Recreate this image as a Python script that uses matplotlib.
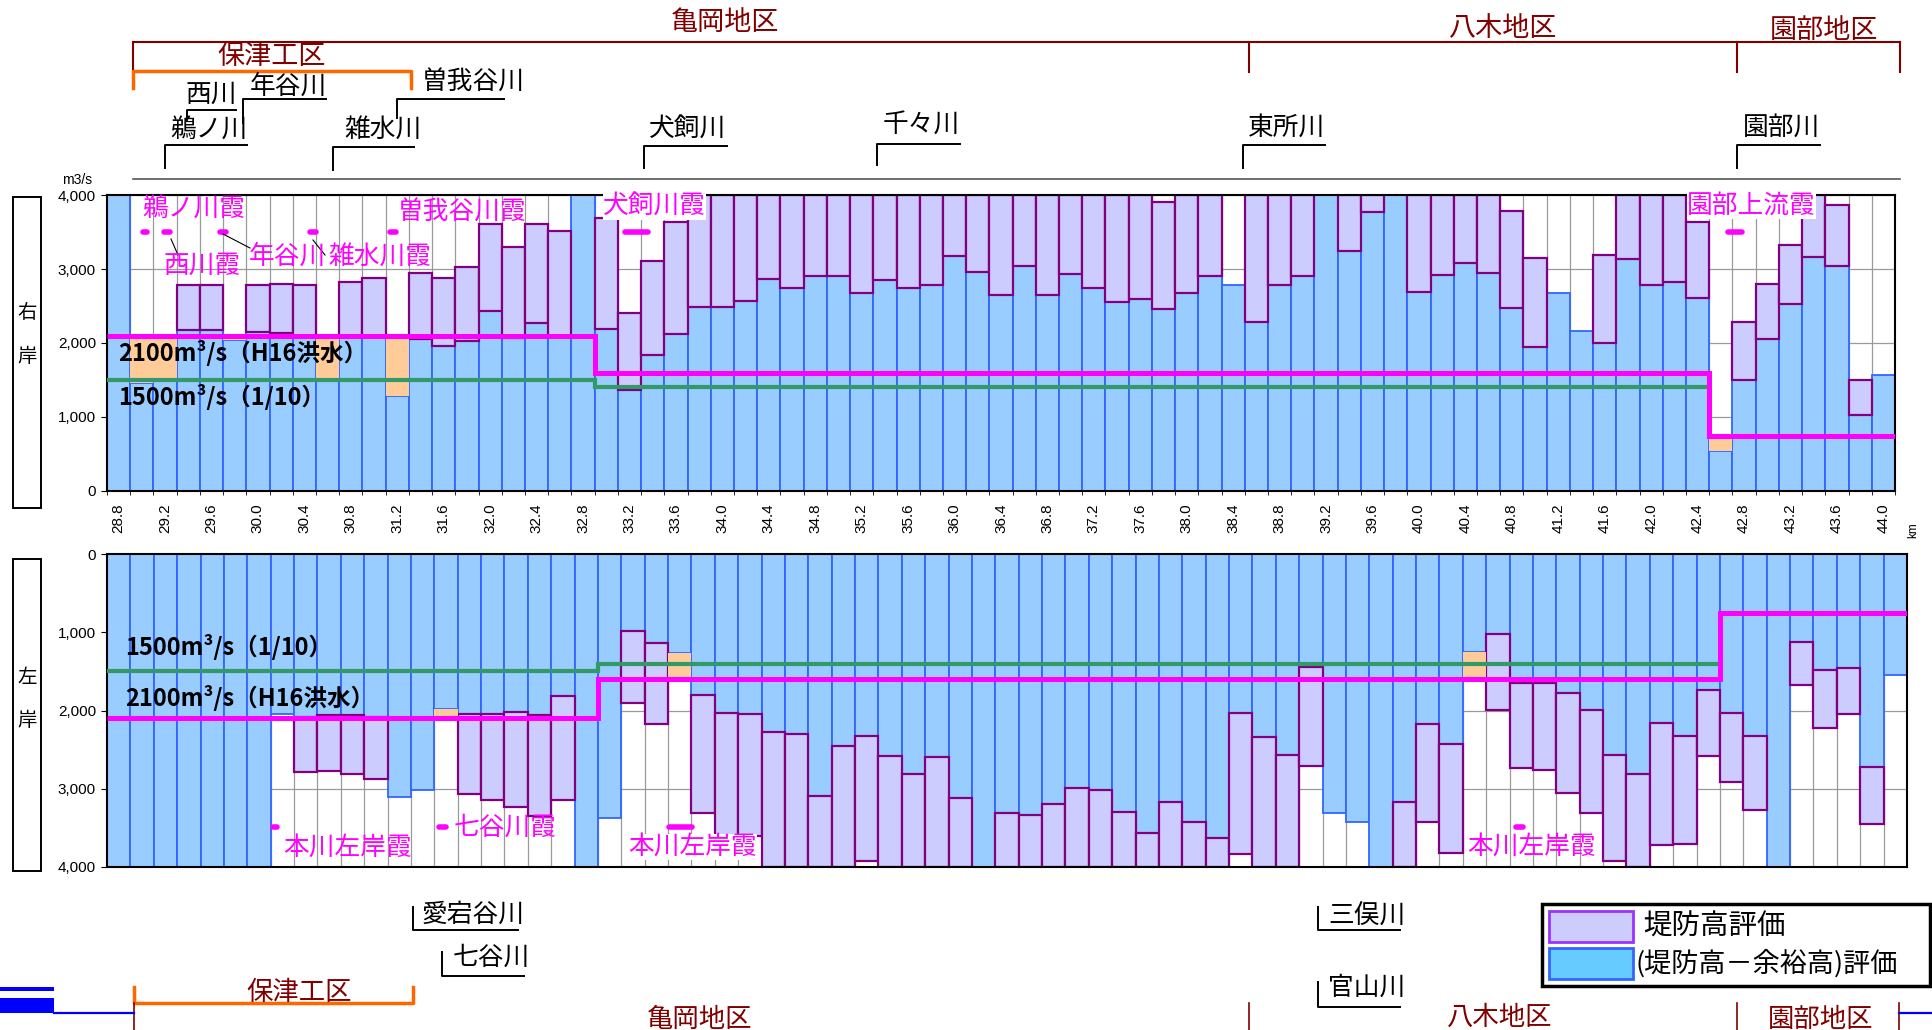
import numpy as np
import matplotlib.pyplot as plt
from matplotlib.patches import Rectangle

plt.rcParams['font.family'] = ['Noto Sans CJK JP', 'DejaVu Sans']

N = np.nan

# distance marks (km), one bar every 200 m
km = np.round(28.8 + 0.2 * np.arange(77), 1)

# right bank (右岸): capacity with freeboard, capacity at levee crown, shortfall up to design flow
right_freeboard = [4000, 1460, 1500, 2170, 2170, 2040, 2150, 2140, 2100, 1500,
                   2090, 2100, 1290, 2050, 1960, 2030, 2430, 2070, 2270, 2100,
                   4000, 2190, 1370, 1840, 2120, 2490, 2490, 2570, 2860, 2750,
                   2900, 2900, 2680, 2850, 2740, 2790, 3180, 2960, 2650, 3040,
                   2650, 2930, 2740, 2550, 2600, 2460, 2670, 2910, 2780, 2290,
                   2790, 2900, 4000, 3240, 3770, 4000, 2690, 2920, 3080, 2940,
                   2470, 1950, 2670, 2160, 2000, 3140, 2780, 2820, 2610, 540,
                   1500, 2060, 2530, 3160, 3040, 1030, 1570]
right_levee = [N, N, N, 2790, 2790, N, 2780, 2800, 2790, N,
               2820, 2880, N, 2940, 2880, 3030, 3610, 3300, 3610, 3520,
               N, 3690, 2410, 3110, 3640, 4000, 4000, 4000, 4000, 4000,
               4000, 4000, 4000, 4000, 4000, 4000, 4000, 4000, 4000, 4000,
               4000, 4000, 4000, 4000, 4000, 3900, 4000, 4000, N, 4000,
               4000, 4000, N, 4000, 4000, N, 4000, 4000, 4000, 4000,
               3790, 3150, N, N, 3190, 4000, 4000, 4000, 3640, N,
               2280, 2800, 3320, 4000, 3870, 1500, N]
right_short = [N, 2100, 2100, N, N, 2100, N, N, N, 2100,
               N, N, 2100, N, N, N, N, N, N, N,
               N, N, N, N, N, N, N, N, N, N,
               N, N, N, N, N, N, N, N, N, N,
               N, N, N, N, N, N, N, N, N, N,
               N, N, N, N, N, N, N, N, N, N,
               N, N, N, N, N, N, N, N, N, 750,
               N, N, N, N, N, N, N]

# left bank (左岸)
left_freeboard = [4000, 4000, 4000, 4000, 4000, 4000, 4000, 2045, 2080, 2060,
                  2060, 2080, 3100, 3010, 1980, 2050, 2050, 2020, 2060, 1820,
                  4000, 3380, 980, 1140, 1260, 1800, 2030, 2040, 2280, 2300,
                  3090, 2450, 2320, 2580, 2810, 2600, 3120, 4000, 3310, 3330,
                  3190, 2990, 3020, 3300, 3560, 3170, 3420, 3630, 2030, 2340,
                  2570, 1450, 3310, 3430, 4000, 3170, 2170, 2430, 1250, 1020,
                  1650, 1650, 1780, 1990, 2570, 2810, 2160, 2320, 1740, 2030,
                  2320, 4000, 1130, 1480, 1460, 2720, 1550]
left_levee = [N, N, N, N, N, N, N, N, 2780, 2770,
              2810, 2870, N, N, N, 3070, 3140, 3230, 3350, 3140,
              N, N, 1900, 2170, N, 3310, 3600, 3610, 4000, 4000,
              4000, 4000, 3920, 4000, 4000, 4000, 4000, N, 4000, 4000,
              4000, 4000, 4000, 4000, 4000, 4000, 4000, 4000, 3830, 4000,
              4000, 2710, N, N, N, 4000, 3430, 3820, N, 1990,
              2740, 2760, 3050, 3310, 3920, 4000, 3720, 3710, 2580, 2920,
              3270, N, 1680, 2220, 2050, 3450, N]
left_short = [N, N, N, N, N, N, N, N, N, N,
              N, N, N, N, 2100, N, N, N, N, N,
              N, N, N, N, 1600, N, N, N, N, N,
              N, N, N, N, N, N, N, N, N, N,
              N, N, N, N, N, N, N, N, N, N,
              N, N, N, N, N, N, N, N, 1600, N,
              N, N, N, N, N, N, N, N, N, N,
              N, N, N, N, N, N, N]

# design flows, changing at the listed km
flow_change_km = [33.0, 42.6]
flow_h16 = [2100, 1600, 750]
flow_plan = [1500, 1400]

BLUE, BLUE_EDGE = '#99CCFF', '#3366FF'
LAV, LAV_EDGE = '#CCCCFF', '#800080'
ORANGE = '#FFCC99'
PINK, GREEN = '#FF00FF', '#339966'
DARKRED, BRACKET = '#800000', '#FF6600'

seg = np.searchsorted(flow_change_km, km, side='right')
h16 = np.array(flow_h16, float)[seg]
plan = np.array(flow_plan + [N], float)[seg]

x = np.arange(len(km))
edges = np.arange(len(km) + 1) - 0.5

fig = plt.figure(figsize=(19.32, 10.30), dpi=100)
ax_r = fig.add_axes([107 / 1932, 1 - 491 / 1030, 1788 / 1932, 296 / 1030])
ax_l = fig.add_axes([107 / 1932, 1 - 867 / 1030, 1800 / 1932, 313 / 1030])


def draw_bank(ax, freeboard, levee, short):
    fb = np.array(freeboard, float)
    lv = np.array(levee, float)
    sh = np.array(short, float)
    ax.bar(x, fb, width=1.0, color=BLUE, edgecolor=BLUE_EDGE, linewidth=1.3, zorder=2)
    m = ~np.isnan(lv)
    ax.bar(x[m], lv[m] - fb[m], bottom=fb[m], width=1.0, color=LAV,
           edgecolor=LAV_EDGE, linewidth=1.6, zorder=2)
    m = ~np.isnan(sh)
    ax.bar(x[m], sh[m] - fb[m], bottom=fb[m], width=1.0, color=ORANGE,
           edgecolor='none', zorder=2)
    n = np.count_nonzero(~np.isnan(plan))
    ax.stairs(plan[:n], edges[:n + 1], baseline=None, color=GREEN, lw=3.0, zorder=3)
    ax.stairs(h16, edges, baseline=None, color=PINK, lw=3.6, zorder=4)

    ax.set_xlim(-0.5, len(km) - 0.5)
    ax.set_xticks(edges, minor=True)
    ax.set_yticks([0, 1000, 2000, 3000, 4000])
    ax.set_yticklabels(['0', '1,000', '2,000', '3,000', '4,000'])
    ax.tick_params(axis='y', length=4, labelsize=11, pad=4)
    ax.grid(which='minor', axis='x', color='#9a9a9a', lw=0.9)
    ax.grid(which='major', axis='y', color='#9a9a9a', lw=0.9)
    ax.set_axisbelow(True)
    for sp in ax.spines.values():
        sp.set_linewidth(1.5)


draw_bank(ax_r, right_freeboard, right_levee, right_short)
ax_r.set_ylim(0, 4000)
ax_r.set_xticks(x[::2])
ax_r.set_xticklabels([f'{k:.1f}' for k in km[::2]], rotation=90)
ax_r.tick_params(axis='x', which='major', length=0, pad=9, labelsize=11)
ax_r.tick_params(axis='x', which='minor', length=3)

draw_bank(ax_l, left_freeboard, left_levee, left_short)
ax_l.set_ylim(4000, 0)
ax_l.set_xticks([])
ax_l.tick_params(axis='x', which='minor', length=0)

for ax in (ax_r, ax_l):
    for lbl in ax.get_xticklabels() + ax.get_yticklabels():
        lbl.set_fontfamily('Liberation Sans')

flow_kw = dict(fontsize=17, fontweight='bold', color='black', va='center', ha='left',
               zorder=6)
ax_r.text(0.006, 1865, '2100m³/s（H16洪水）', transform=ax_r.get_yaxis_transform(), **flow_kw)
ax_r.text(0.006, 1270, '1500m³/s（1/10）', transform=ax_r.get_yaxis_transform(), **flow_kw)
ax_l.text(0.010, 1190, '1500m³/s（1/10）', transform=ax_l.get_yaxis_transform(), **flow_kw)
ax_l.text(0.010, 1840, '2100m³/s（H16洪水）', transform=ax_l.get_yaxis_transform(), **flow_kw)

# annotation layer in pixel coordinates
ov = fig.add_axes([0, 0, 1, 1])
ov.set_xlim(0, 1932)
ov.set_ylim(1030, 0)
ov.axis('off')

# district brackets (top)
ov.plot([133, 1900], [42, 42], color=DARKRED, lw=1.5)
for xv in (133, 1249, 1737, 1900):
    ov.plot([xv, xv], [42, 72], color=DARKRED, lw=1.5)
ov.plot([133, 133, 411, 411], [88, 71, 71, 88], color=BRACKET, lw=2.5)
for txt, cx, cy in [('亀岡地区', 725, 22), ('八木地区', 1503, 28), ('園部地区', 1824, 30),
                    ('保津工区', 272, 56)]:
    ov.text(cx, cy, txt, color=DARKRED, fontsize=19.5, ha='center', va='center')

# tributaries, top
top_rivers = [('鵜ノ川', 165, 145, 168, 247, 170, 130),
              ('西川', 187, 110, 120, 236, 185, 95),
              ('年谷川', 243, 99, 123, 326, 250, 87),
              ('雑水川', 333, 147, 170, 414, 344, 130),
              ('曽我谷川', 397, 99, 118, 504, 422, 82),
              ('犬飼川', 644, 146, 168, 727, 649, 130),
              ('千々川', 877, 144, 165, 960, 883, 125),
              ('東所川', 1243, 145, 168, 1325, 1248, 128),
              ('園部川', 1737, 145, 168, 1820, 1743, 128)]
for txt, xv, yl, yb, xe, tx, ty in top_rivers:
    ov.plot([xv, xv, xe], [yb, yl, yl], color='black', lw=1.4)
    ov.text(tx, ty, txt, fontsize=18.5, ha='left', va='center')
ov.plot([133, 1900], [179, 179], color='#555555', lw=1.2)

# tributaries, bottom
bottom_rivers = [('愛宕谷川', 413, 907, 930, 518, 422, 915),
                 ('七谷川', 442, 952, 976, 524, 453, 958),
                 ('三俣川', 1318, 907, 930, 1400, 1328, 917),
                 ('官山川', 1318, 982, 1007, 1400, 1328, 988)]
for txt, xv, yt, yl, xe, tx, ty in bottom_rivers:
    ov.plot([xv, xv, xe], [yt, yl, yl], color='black', lw=1.4)
    ov.text(tx, ty, txt, fontsize=18.5, ha='left', va='center')

# district brackets (bottom)
ov.plot([134, 134, 413, 413], [987, 1003, 1003, 987], color=BRACKET, lw=2.5)
for xv in (134, 1249, 1737, 1899):
    ov.plot([xv, xv], [1003, 1030], color=DARKRED, lw=1.2)
for txt, cx, cy in [('保津工区', 299, 993), ('亀岡地区', 700, 1019),
                    ('八木地区', 1500, 1017), ('園部地区', 1821, 1019)]:
    ov.text(cx, cy, txt, color=DARKRED, fontsize=19, ha='center', va='center')
ov.add_patch(Rectangle((0, 987), 54, 4, color='blue', lw=0))
ov.add_patch(Rectangle((0, 998), 54, 15, color='blue', lw=0))
ov.plot([54, 134], [1013, 1013], color='blue', lw=1.6)
ov.plot([1899, 1932], [1013, 1013], color='blue', lw=1.6)

# retarding basins (霞)
kasumi = [('鵜ノ川霞', 142, 209, False), ('西川霞', 163, 266, False),
          ('年谷川', 249, 257, False), ('雑水川霞', 328, 257, False),
          ('曽我谷川霞', 398, 212, False), ('犬飼川霞', 603, 207, True),
          ('園部上流霞', 1687, 206, True),
          ('本川左岸霞', 283, 848, False), ('七谷川霞', 454, 828, False),
          ('本川左岸霞', 628, 847, True), ('本川左岸霞', 1467, 847, False)]
for txt, tx, ty, bg in kasumi:
    ov.text(tx, ty, txt, color=PINK, fontsize=18.5, ha='left', va='center',
            bbox=dict(facecolor='white', edgecolor='none', pad=0) if bg else None)
for x0, x1, yy in [(143, 147, 232), (164, 170, 232), (220, 226, 232), (310, 316, 232),
                   (390, 396, 232), (625, 648, 232), (1728, 1742, 232),
                   (273, 277, 827), (439, 446, 827), (669, 692, 827), (1516, 1523, 827)]:
    ov.plot([x0, x1], [yy, yy], color=PINK, lw=4, solid_capstyle='round')
for (x0, y0), (x1, y1) in [((171, 239), (178, 255)), ((223, 234), (250, 248)),
                           ((313, 240), (325, 255))]:
    ov.plot([x0, x1], [y0, y1], color='black', lw=0.8)

# bank labels
ov.add_patch(Rectangle((13, 197), 28, 311, fill=False, edgecolor='black', lw=1.4))
ov.add_patch(Rectangle((13, 559), 28, 312, fill=False, edgecolor='black', lw=1.4))
for ch, cy in [('右', 313), ('岸', 357), ('左', 677), ('岸', 720)]:
    ov.text(27, cy, ch, fontsize=14, ha='center', va='center')
ov.text(77, 180, 'm3/s', fontsize=10, ha='center', va='center', family='Liberation Sans')
ov.text(1913, 530, 'km', fontsize=8.5, ha='center', va='center', rotation=90,
        family='Liberation Sans')

# legend
ov.add_patch(Rectangle((1542, 904), 388, 82, fill=False, edgecolor='black', lw=2.5))
ov.add_patch(Rectangle((1549, 911), 84, 31, facecolor=LAV, edgecolor='#9933FF', lw=2))
ov.add_patch(Rectangle((1549, 948), 84, 31, facecolor='#66CCFF', edgecolor=BLUE_EDGE, lw=2))
ov.text(1643, 927, '堤防高評価', fontsize=20.5, ha='left', va='center')
ov.text(1636, 964, '(堤防高－余裕高)評価', fontsize=19.5, ha='left', va='center')

plt.savefig('out.png', dpi=100)
